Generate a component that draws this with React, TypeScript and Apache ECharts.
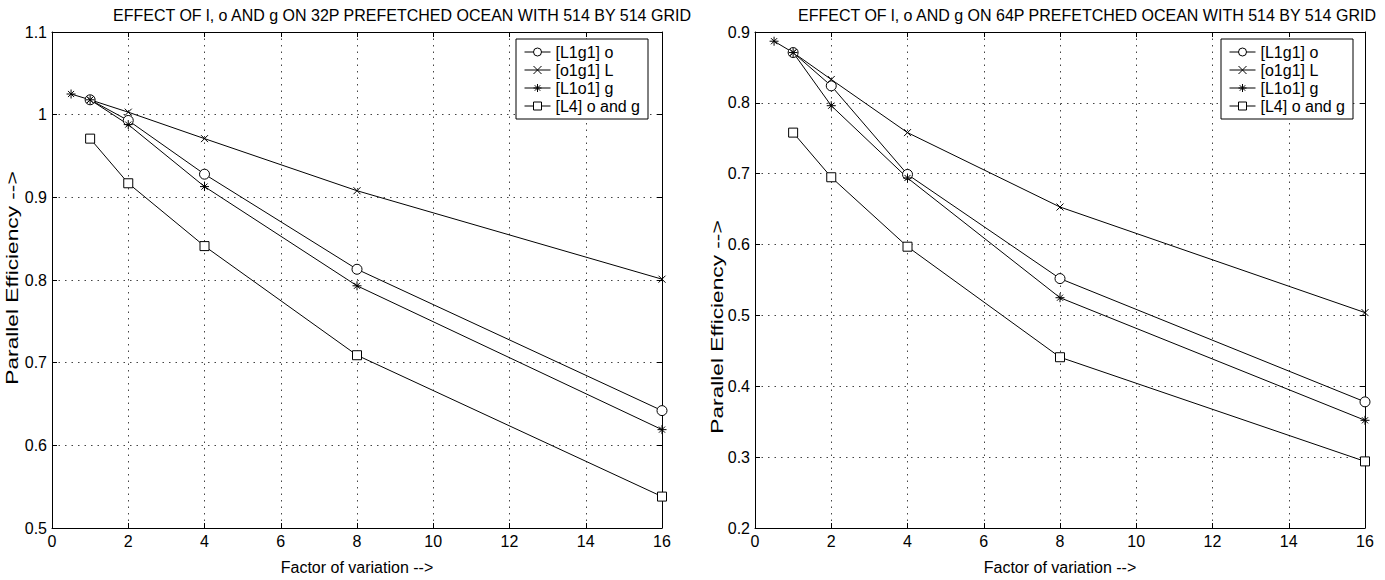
import React, { useEffect, useRef } from "react";
import * as echarts from "echarts";

const xFive = [1, 2, 4, 8, 16];
const xSix = [0.5, 1, 2, 4, 8, 16];

const seriesNames = ["[L1g1] o", "[o1g1] L", "[L1o1] g", "[L4] o and g"];

// 32P chart
const left_o = [1.018, 0.993, 0.928, 0.813, 0.642];
const left_x = [1.018, 1.003, 0.971, 0.908, 0.801];
const left_star = [1.025, 1.018, 0.988, 0.913, 0.793, 0.619];
const left_sq = [0.971, 0.917, 0.841, 0.709, 0.538];

// 64P chart
const right_o = [0.871, 0.824, 0.699, 0.552, 0.378];
const right_x = [0.871, 0.833, 0.758, 0.653, 0.504];
const right_star = [0.887, 0.871, 0.796, 0.694, 0.525, 0.352];
const right_sq = [0.758, 0.695, 0.597, 0.441, 0.294];

const titles = [
  "EFFECT OF l, o AND g ON 32P PREFETCHED OCEAN WITH 514 BY 514 GRID",
  "EFFECT OF l, o AND g ON 64P PREFETCHED OCEAN WITH 514 BY 514 GRID",
];
const titleCenters = [402, 1087];
const xName = "Factor of variation -->";
const yName = "Parallel Efficiency -->";
const yNamePos = [
  [12, 278],
  [717, 327],
];

const FONT = "'Liberation Sans', Arial, Helvetica, sans-serif";
const FS = 16;

const symbols = [
  { symbol: "path://M5,0A5,5 0 1,1 5,10A5,5 0 1,1 5,0Z", size: 10 },
  { symbol: "path://M0,0L10,10M10,0L0,10", size: 7 },
  { symbol: "path://M5,0L5,10M0,5L10,5M1.6,1.6L8.4,8.4M8.4,1.6L1.6,8.4", size: 9 },
  { symbol: "path://M0,0L10,0L10,10L0,10Z", size: 9 },
];

function pairs(xs: number[], ys: number[]) {
  return ys.map((y, i) => [xs[i], y]);
}

const grids = [
  { left: 52, top: 32, width: 610, height: 504 },
  { left: 755, top: 32, width: 610, height: 504 },
];

function makeSeries(gi: number, data: number[][][]) {
  return data.map((d, i) => ({
    type: "line",
    name: seriesNames[i],
    xAxisIndex: gi * 2,
    yAxisIndex: gi * 2,
    data: d,
    symbol: symbols[i].symbol,
    symbolSize: symbols[i].size,
    showAllSymbol: true,
    lineStyle: { color: "#000", width: 1 },
    itemStyle: { color: "#fff", borderColor: "#000", borderWidth: 1 },
    emphasis: { disabled: true },
  }));
}

const fmt = (v: number) => String(parseFloat(v.toFixed(1)));

function axesFor(gi: number, ymin: number, ymax: number) {
  const gridLine = { show: true, lineStyle: { color: "#444", width: 1, type: [1.5, 5] } };
  const axLine = { show: true, lineStyle: { color: "#000", width: 1 } };
  const tick = { show: true, inside: true, length: 5, lineStyle: { color: "#000" } };
  const xs = [
    {
      type: "value", gridIndex: gi, min: 0, max: 16, interval: 2, position: "bottom",
      axisLine: { ...axLine, onZero: false }, axisTick: tick, splitLine: gridLine,
      axisLabel: { color: "#000", fontSize: FS, fontFamily: FONT, margin: 5 },
      name: xName, nameLocation: "middle", nameGap: 31,
      nameTextStyle: { color: "#000", fontSize: FS, fontFamily: FONT },
    },
    {
      type: "value", gridIndex: gi, min: 0, max: 16, interval: 2, position: "top",
      axisLine: { ...axLine, onZero: false }, axisTick: tick, splitLine: { show: false },
      axisLabel: { show: false },
    },
  ];
  const ys = [
    {
      type: "value", gridIndex: gi, min: ymin, max: ymax, interval: 0.1, position: "left",
      axisLine: { ...axLine, onZero: false }, axisTick: tick, splitLine: gridLine,
      axisLabel: { color: "#000", fontSize: FS, fontFamily: FONT, margin: 5, formatter: fmt },
    },
    {
      type: "value", gridIndex: gi, min: ymin, max: ymax, interval: 0.1, position: "right",
      axisLine: { ...axLine, onZero: false }, axisTick: tick, splitLine: { show: false },
      axisLabel: { show: false },
    },
  ];
  return { xs, ys };
}

export default function App() {
  const ref = useRef<HTMLDivElement>(null);
  useEffect(() => {
    document.body.style.margin = "0";
    const chart = echarts.init(ref.current!, null, { renderer: "svg" });
    const a0 = axesFor(0, 0.5, 1.1);
    const a1 = axesFor(1, 0.2, 0.9);
    const legendBase = {
      orient: "vertical",
      data: seriesNames,
      itemWidth: 26,
      itemHeight: 10,
      itemGap: 2,
      itemTextGap: 12,
      padding: [5, 8, 5, 8],
      backgroundColor: "#fff",
      borderColor: "#000",
      borderWidth: 1,
      borderRadius: 0,
      selectedMode: false,
      itemStyle: { borderWidth: 1 },
      lineStyle: { width: 1 },
      textStyle: { color: "#000", fontSize: FS, fontFamily: FONT },
    };
    const titleTexts = titles.map((t, i) => ({
      type: "text",
      x: titleCenters[i],
      y: 15,
      style: {
        text: t,
        fill: "#000",
        font: `${FS}px ${FONT}`,
        textAlign: "center",
        textVerticalAlign: "middle",
      },
    }));
    const yNameTexts = yNamePos.map((p) => ({
      type: "text",
      x: p[0],
      y: p[1],
      rotation: Math.PI / 2,
      scaleX: 1.42,
      style: {
        text: yName,
        fill: "#000",
        font: `${FS}px ${FONT}`,
        textAlign: "center",
        textVerticalAlign: "middle",
      },
    }));
    chart.setOption({
      animation: false,
      backgroundColor: "#fff",
      grid: grids,
      xAxis: [...a0.xs, ...a1.xs],
      yAxis: [...a0.ys, ...a1.ys],
      legend: [
        { ...legendBase, left: 516, top: 39 },
        { ...legendBase, left: 1221, top: 39 },
      ],
      graphic: [...titleTexts, ...yNameTexts],
      series: [
        ...makeSeries(0, [
          pairs(xFive, left_o),
          pairs(xFive, left_x),
          pairs(xSix, left_star),
          pairs(xFive, left_sq),
        ]),
        ...makeSeries(1, [
          pairs(xFive, right_o),
          pairs(xFive, right_x),
          pairs(xSix, right_star),
          pairs(xFive, right_sq),
        ]),
      ],
    });
    return () => chart.dispose();
  }, []);
  return <div ref={ref} style={{ width: 1385, height: 580 }} />;
}
